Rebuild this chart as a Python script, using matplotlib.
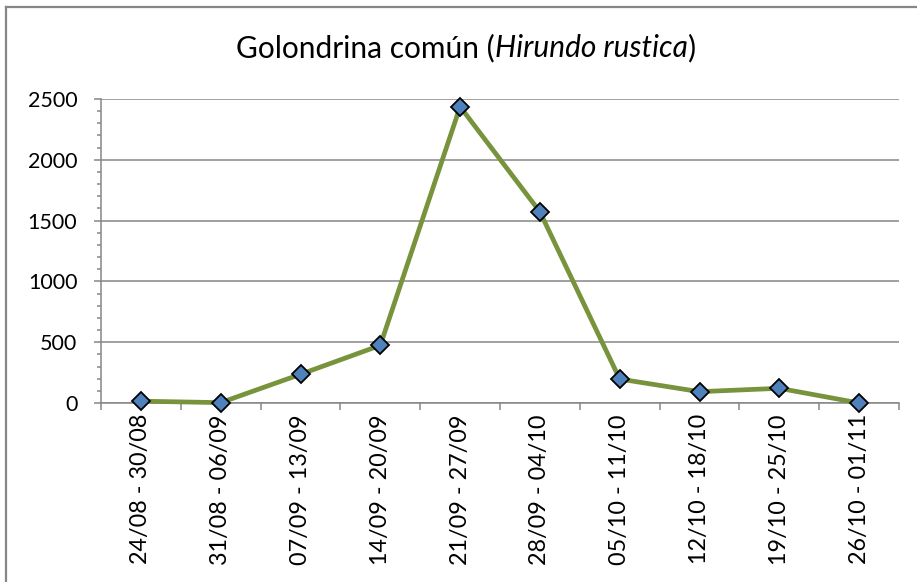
import matplotlib
matplotlib.use("Agg")
import matplotlib.pyplot as plt
from matplotlib.lines import Line2D
from matplotlib.ticker import MultipleLocator, FixedLocator, NullFormatter

plt.rcParams['font.family'] = ['Lato', 'DejaVu Sans']

categories = ["24/08 - 30/08", "31/08 - 06/09", "07/09 - 13/09", "14/09 - 20/09",
              "21/09 - 27/09", "28/09 - 04/10", "05/10 - 11/10", "12/10 - 18/10",
              "19/10 - 25/10", "26/10 - 01/11"]
values = [15, 3, 236, 474, 2437, 1572, 197, 93, 121, 0]
title_parts = [("Golondrina común (", "normal"), ("Hirundo rustica", "italic"), (")", "normal")]

W, H = 917, 582
fig = plt.figure(figsize=(W / 100, H / 100), dpi=100)
ax = fig.add_axes([101 / W, 1 - 403 / H, (899 - 101) / W, (403 - 99) / H])

grey = "#868686"
x = list(range(len(categories)))
ax.plot(x, values, color="#77933C", lw=3.4, marker="D", markersize=9.6,
        markerfacecolor="#4F81BD", markeredgecolor="black", markeredgewidth=1.3,
        solid_capstyle="round", zorder=3, clip_on=False)

ax.set_xlim(-0.5, len(categories) - 0.5)
ax.set_ylim(0, 2500)
ax.yaxis.set_major_locator(MultipleLocator(500))
ax.yaxis.set_minor_locator(MultipleLocator(100))
ax.grid(axis="y", which="major", color=grey, lw=1.1)
ax.set_axisbelow(True)

ax.set_xticks(x)
ax.set_xticklabels(categories, rotation=90, fontsize=16.8)
ax.tick_params(axis="x", which="major", length=0, pad=8)
ax.xaxis.set_minor_locator(FixedLocator([i - 0.5 for i in range(len(categories) + 1)]))
ax.xaxis.set_minor_formatter(NullFormatter())
ax.tick_params(axis="x", which="minor", length=5, width=1.1, color=grey, direction="out")
ax.tick_params(axis="y", which="major", length=5, width=1.1, color=grey, labelsize=15.5, pad=12)
ax.tick_params(axis="y", which="minor", length=3, width=1.1, color=grey)

for s in ["top", "right"]:
    ax.spines[s].set_visible(False)
for s in ["left", "bottom"]:
    ax.spines[s].set_color(grey)
    ax.spines[s].set_linewidth(1.1)

# outer chart border (left and top visible)
fig.add_artist(Line2D([5.5 / W, 5.5 / W], [0, 1 - 6.5 / H], color=grey, lw=1.6))
fig.add_artist(Line2D([5.5 / W, 1], [1 - 6.5 / H, 1 - 6.5 / H], color=grey, lw=1.6))

# title with italic part, centred
fig.canvas.draw()
r = fig.canvas.get_renderer()
texts = [fig.text(0, 0, s, style=st, fontsize=21.5, va="baseline", ha="left")
         for s, st in title_parts]
widths = [t.get_window_extent(r).width for t in texts]
cx = 466
xp = cx - sum(widths) / 2
base_y = 1 - 57 / H
for t, w in zip(texts, widths):
    t.set_position((xp / W, base_y))
    xp += w

fig.savefig("out.png", dpi=100)
